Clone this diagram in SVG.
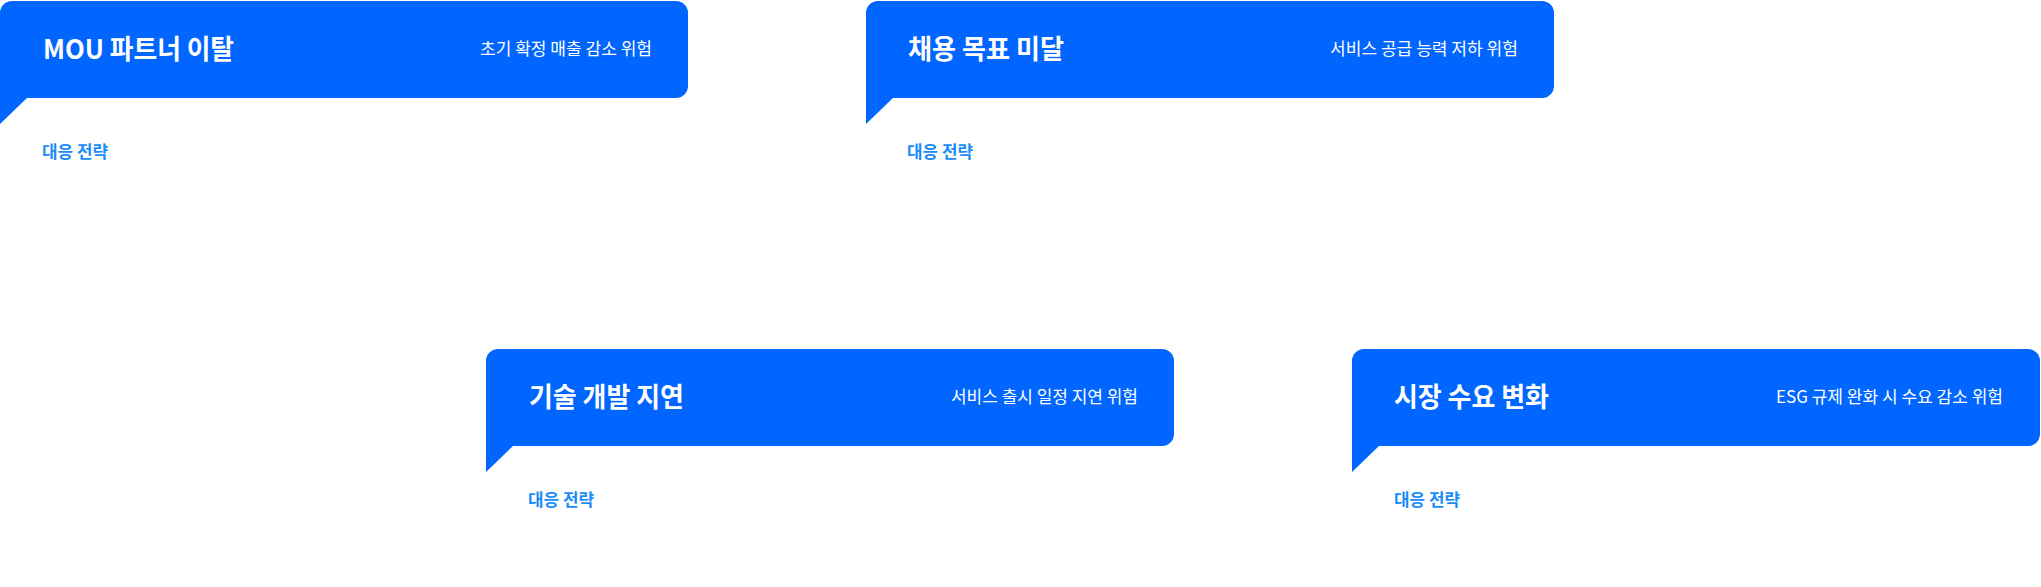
<svg xmlns="http://www.w3.org/2000/svg" xmlns:xlink="http://www.w3.org/1999/xlink" width="2041" height="587" viewBox="0 0 2041 587">
  <style>
    .bubble { fill: #0066FF; }
    .title { font-family: "Noto Sans CJK KR", "Noto Sans", sans-serif; font-size: 27px; font-weight: 700; fill: #FFFFFF; }
    .sub { font-family: "Noto Sans CJK KR", "Noto Sans", sans-serif; font-size: 17px; font-weight: 400; fill: #FFFFFF; text-anchor: end; }
    .label { font-family: "Noto Sans CJK KR", "Noto Sans", sans-serif; font-size: 17px; font-weight: 700; fill: #1A8CF8; }
  </style>
  <defs>
    <path id="bubble" d="M0,12 A12,12 0 0 1 12,0 H676 A12,12 0 0 1 688,12 V85 A12,12 0 0 1 676,97 H27 L0,123 Z"/>
  </defs>
  <rect width="2041" height="587" fill="#FFFFFF"/>
  <g id="connectors"/>
  <g id="node-mou" transform="translate(0,1)">
    <use xlink:href="#bubble" class="bubble"/>
    <text class="title" x="43" y="57.5" textLength="191" lengthAdjust="spacingAndGlyphs">MOU 파트너 이탈</text>
    <text class="sub" x="652" y="54" textLength="172" lengthAdjust="spacingAndGlyphs">초기 확정 매출 감소 위험</text>
    <text class="label" x="42" y="157" textLength="66" lengthAdjust="spacingAndGlyphs">대응 전략</text>
  </g>
  <g id="node-hiring" transform="translate(866,1)">
    <use xlink:href="#bubble" class="bubble"/>
    <text class="title" x="42" y="57.5" textLength="156" lengthAdjust="spacingAndGlyphs">채용 목표 미달</text>
    <text class="sub" x="652" y="54" textLength="188" lengthAdjust="spacingAndGlyphs">서비스 공급 능력 저하 위험</text>
    <text class="label" x="41" y="157" textLength="66" lengthAdjust="spacingAndGlyphs">대응 전략</text>
  </g>
  <g id="node-tech" transform="translate(486,349)">
    <use xlink:href="#bubble" class="bubble"/>
    <text class="title" x="43" y="57.5" textLength="155" lengthAdjust="spacingAndGlyphs">기술 개발 지연</text>
    <text class="sub" x="652" y="54" textLength="187" lengthAdjust="spacingAndGlyphs">서비스 출시 일정 지연 위험</text>
    <text class="label" x="42" y="157" textLength="66" lengthAdjust="spacingAndGlyphs">대응 전략</text>
  </g>
  <g id="node-market" transform="translate(1352,349)">
    <use xlink:href="#bubble" class="bubble"/>
    <text class="title" x="42" y="57.5" textLength="155" lengthAdjust="spacingAndGlyphs">시장 수요 변화</text>
    <text class="sub" x="651" y="54" textLength="227" lengthAdjust="spacingAndGlyphs">ESG 규제 완화 시 수요 감소 위험</text>
    <text class="label" x="42" y="157" textLength="66" lengthAdjust="spacingAndGlyphs">대응 전략</text>
  </g>
</svg>
